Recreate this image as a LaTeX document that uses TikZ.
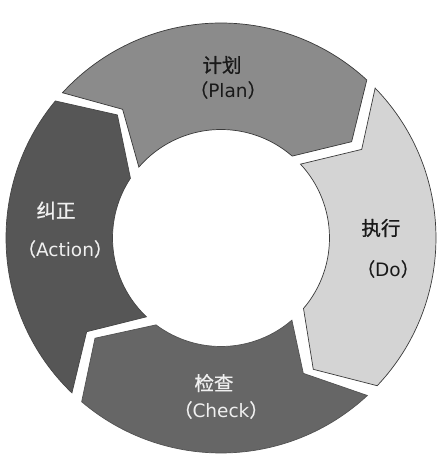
\documentclass[tikz,border=0pt]{standalone}
\usepackage{fontspec}
\setmainfont{DejaVu Sans}
\newfontfamily\cjk{Noto Sans CJK SC}[FakeBold=0.8]
\newcommand\lp{{\cjk （}}
\newcommand\rp{{\cjk ）}}
\definecolor{planc}{HTML}{8B8B8B}
\definecolor{doc}{HTML}{D4D4D4}
\definecolor{checkc}{HTML}{666666}
\definecolor{actc}{HTML}{565656}
\definecolor{edgec}{HTML}{3A3A3A}
\begin{document}
\begin{tikzpicture}[x=1pt,y=1pt,
  seg/.style={draw=edgec, line width=0.7pt, line join=miter},
  lbl/.style={inner sep=0pt, anchor=center},
  cn/.style={font=\cjk\fontsize{19.5}{22}\selectfont},
  en/.style={font=\fontsize{18.5}{22}\selectfont},
  darklbl/.style={lbl, text=black!90},
  lightlbl/.style={lbl, text=white!94!black}]
\useasboundingbox (0,0) rectangle (442,464);
\fill[white] (0,0) rectangle (442,464);
\begin{scope}[shift={(221,226)}]
  % Plan
  \fill[planc] (47.3:215) arc[start angle=47.3, end angle=137.5, radius=215]
    -- (127.4:162) -- (139.2:108.5) arc[start angle=139.2, end angle=49.0, radius=108.5]
    -- (36.4:162.3) -- cycle;
  \draw[seg] (47.3:215) arc[start angle=47.3, end angle=137.5, radius=215]
    -- (127.4:162) -- (139.2:108.5) arc[start angle=139.2, end angle=49.0, radius=108.5]
    -- (36.4:162.3) -- cycle;
  % Do
  \fill[doc] (-43.4:215) arc[start angle=-43.4, end angle=44.2, radius=215]
    -- (32.2:166.3) -- (42.9:108.5) arc[start angle=42.9, end angle=-40.5, radius=108.5]
    -- (-54.9:160.5) -- cycle;
  \draw[seg] (-43.4:215) arc[start angle=-43.4, end angle=44.2, radius=215]
    -- (32.2:166.3) -- (42.9:108.5) arc[start angle=42.9, end angle=-40.5, radius=108.5]
    -- (-54.9:160.5) -- cycle;
  % Check
  \fill[checkc] (229.6:215) arc[start angle=229.6, end angle=312.9, radius=215]
    -- (301.3:158.4) -- (310.8:108.5) arc[start angle=310.8, end angle=233.2, radius=108.5]
    -- (218.5:161) -- cycle;
  \draw[seg, draw=checkc!80!black] (229.6:215) arc[start angle=229.6, end angle=312.9, radius=215]
    -- (301.3:158.4) -- (310.8:108.5) arc[start angle=310.8, end angle=233.2, radius=108.5]
    -- (218.5:161) -- cycle;
  % Action
  \fill[actc] (140.4:215) arc[start angle=140.4, end angle=226.1, radius=215]
    -- (214.9:163.8) -- (226.6:108.5) arc[start angle=226.6, end angle=146.6, radius=108.5]
    -- (130.1:160.9) -- cycle;
  \draw[seg, draw=actc!80!black] (140.4:215) arc[start angle=140.4, end angle=226.1, radius=215]
    -- (214.9:163.8) -- (226.6:108.5) arc[start angle=226.6, end angle=146.6, radius=108.5]
    -- (130.1:160.9) -- cycle;
\end{scope}
\node[darklbl, cn] (plancn) at (222,399) {计划};
\node[darklbl, en] (planen) at (228,374) {\lp Plan\rp};
\node[darklbl, cn] (docn) at (381,236) {执行};
\node[darklbl, en] (doen) at (388,195) {\lp Do\rp};
\node[lightlbl, cn] (checkcn) at (214,81) {检查};
\node[lightlbl, en] (checken) at (221,54) {\lp Check\rp};
\node[lightlbl, cn] (actcn) at (56,253.5) {纠正};
\node[lightlbl, en] (acten) at (65,215) {\lp Action\rp};
\end{tikzpicture}
\end{document}
